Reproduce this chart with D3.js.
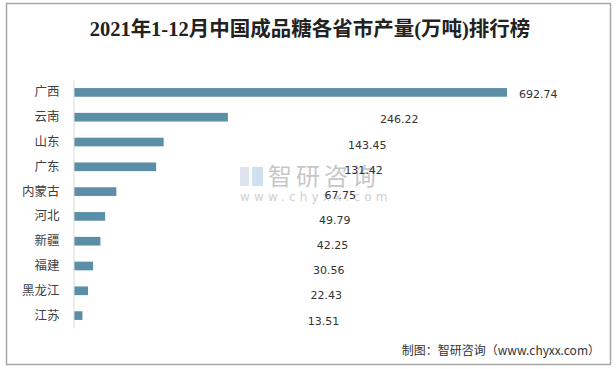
<!DOCTYPE html>
<html>
<head>
<meta charset="utf-8">
<script src="https://cdn.jsdelivr.net/npm/d3@7"></script>
<style>
  body { margin: 0; background: #fff; }
  svg { display: block; }
</style>
</head>
<body>
<div id="chart"></div>
<script>
let provinces = ['广西', '云南', '山东', '广东', '内蒙古', '河北', '新疆', '福建', '黑龙江', '江苏'],
    output = [692.74, 246.22, 143.45, 131.42, 67.75, 49.79, 42.25, 30.56, 22.43, 13.51];

let title = '2021年1-12月中国成品糖各省市产量(万吨)排行榜',
    source = '制图：智研咨询（www.chyxx.com）';

let width = 616,
    height = 369;

let svg = d3.select('#chart').append('svg')
    .attr('width', width)
    .attr('height', height)

// frame
svg.append('rect')
    .attr('x', 6.5).attr('y', 3.5)
    .attr('width', 604).attr('height', 361)
    .attr('fill', '#fff')
    .attr('stroke', '#a6a6a6')
    .attr('stroke-width', 1.5)

svg.append('text')
    .attr('x', 310).attr('y', 36)
    .attr('text-anchor', 'middle')
    .style('font-family', '"Liberation Serif", "Noto Sans CJK SC", serif')
    .style('font-weight', 'bold')
    .style('font-size', '20.5px')
    .style('fill', '#222')
    .text(title)

// watermark
let wm = svg.append('g').attr('opacity', 0.55)
wm.append('rect').attr('x', 240).attr('y', 167).attr('width', 9).attr('height', 19).attr('fill', '#c4cfe0')
wm.append('rect').attr('x', 252).attr('y', 167).attr('width', 11).attr('height', 19).attr('fill', '#a9c8e6')
wm.append('text')
    .attr('x', 268).attr('y', 185)
    .style('font-family', '"Noto Sans CJK SC", sans-serif')
    .style('font-size', '24px')
    .style('letter-spacing', '4px')
    .style('fill', '#999')
    .text('智研咨询')
wm.append('text')
    .attr('x', 240).attr('y', 201)
    .style('font-family', '"DejaVu Sans", sans-serif')
    .style('font-size', '12px')
    .style('letter-spacing', '4.2px')
    .style('fill', '#aaa')
    .text('www.chyxx.com')

let x = d3.scaleLinear().domain([0, d3.max(output)]).range([74, 507]); // bar length
let y = d3.scaleBand().domain(provinces).range([80, 328]).paddingInner(0.65).paddingOuter(0.325);

// value labels sit on their own scale, like in the source picture
let lx = d3.scaleLinear().domain([0, d3.max(output)]).range([303.5, 519]);
let ly = d3.scalePoint().domain(provinces).range([94.4, 320.8]);

svg.append('g')
    .selectAll('rect')
    .data(output)
    .join('rect')
    .attr('x', x(0))
    .attr('y', (d, i) => y(provinces[i]))
    .attr('width', d => x(d) - x(0))
    .attr('height', y.bandwidth())
    .attr('fill', '#5b8fa8')

let axis = svg.append('g')
    .attr('transform', 'translate(' + (x(0) - 0.5) + ',0)')
    .call(d3.axisLeft(y).tickSize(0).tickPadding(14))
axis.select('.domain').attr('stroke', '#d9d9d9')
axis.selectAll('text')
    .style('font-family', '"Noto Sans CJK SC", sans-serif')
    .style('font-size', '12.5px')
    .style('fill', '#404040')

svg.append('g')
    .selectAll('text')
    .data(output)
    .join('text')
    .attr('x', d => lx(d))
    .attr('y', (d, i) => ly(provinces[i]))
    .attr('dy', '0.35em')
    .style('font-family', '"DejaVu Sans", sans-serif')
    .style('font-size', '11px')
    .style('fill', '#333')
    .text(d => d.toFixed(2))

svg.append('text')
    .attr('x', 600).attr('y', 355)
    .attr('text-anchor', 'end')
    .style('font-family', '"Noto Sans CJK SC", sans-serif')
    .style('font-size', '12px')
    .style('fill', '#333')
    .text(source)
</script>
</body>
</html>
